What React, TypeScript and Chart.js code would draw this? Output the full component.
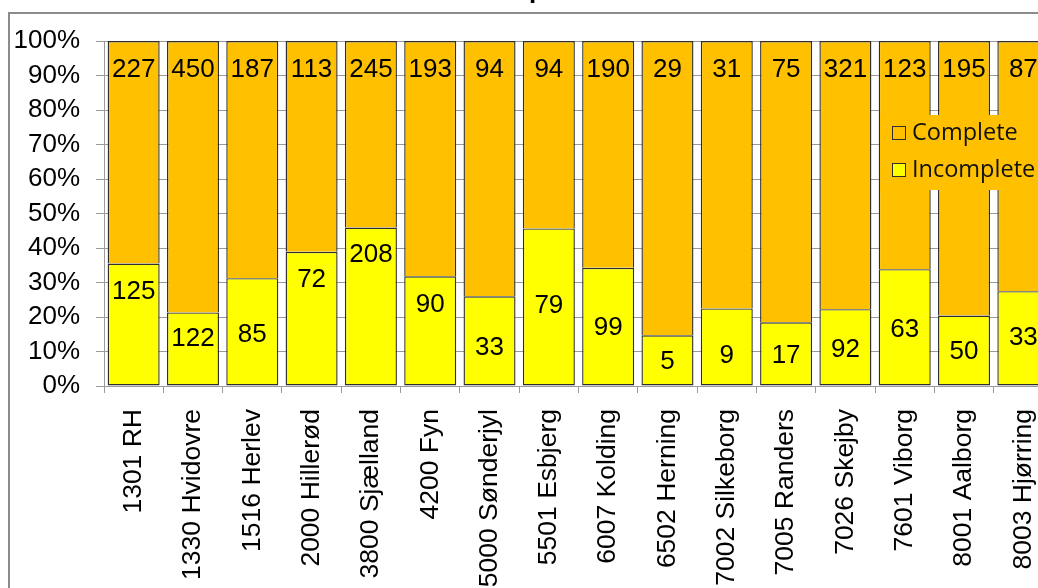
import React, { useEffect, useRef } from "react";
import { Chart, registerables } from "chart.js";

Chart.register(...registerables);

// Departments (x categories)
const departments = [
  "1301 RH",
  "1330 Hvidovre",
  "1516 Herlev",
  "2000 Hillerød",
  "3800 Sjælland",
  "4200 Fyn",
  "5000 Sønderjyl",
  "5501 Esbjerg",
  "6007 Kolding",
  "6502 Herning",
  "7002 Silkeborg",
  "7005 Randers",
  "7026 Skejby",
  "7601 Viborg",
  "8001 Aalborg",
  "8003 Hjørring",
];

// Record counts per department
const incompleteCounts = [125, 122, 85, 72, 208, 90, 33, 79, 99, 5, 9, 17, 92, 63, 50, 33];
const completeCounts = [227, 450, 187, 113, 245, 193, 94, 94, 190, 29, 31, 75, 321, 123, 195, 87];

// Y axis ticks (percent of department total)
const percentTicks = [0, 10, 20, 30, 40, 50, 60, 70, 80, 90, 100];

const chartTitle = "Completeness";

// Label placement: distance in px below each segment's top edge
const completeLabelDrop = 29;
const incompleteLabelDrop = [28, 26, 57, 28, 27, 29, 51, 77, 60, 27, 47, 34, 41, 61, 36, 47];

const COMPLETE_COLOR = "#FFC000";
const INCOMPLETE_COLOR = "#FFFF00";
const EDGE = "#2e2e2e";
const GRID = "#9a9a9a";
const FONT = "'Liberation Sans', Arial, sans-serif";

const CANVAS_W = 1100;
const CANVAS_H = 700;
const SHIFT_Y = 40; // canvas sits this far above the page top

const toPercent = (part: number[], other: number[]) =>
  part.map((v, i) => (100 * v) / (v + other[i]));

export default function App() {
  const ref = useRef<HTMLCanvasElement | null>(null);

  useEffect(() => {
    const canvas = ref.current;
    if (!canvas) return;

    const framePlugin = {
      id: "frameAndTitle",
      beforeDraw(chart: any) {
        const ctx = chart.ctx;
        ctx.save();
        ctx.fillStyle = "#ffffff";
        ctx.fillRect(0, 0, chart.width, chart.height);
        ctx.strokeStyle = "#8c8c8c";
        ctx.lineWidth = 2;
        ctx.strokeRect(9, 12 + SHIFT_Y + 1, chart.width + 20, chart.height + 20);
        ctx.fillStyle = "#000";
        ctx.font = `bold 26px ${FONT}`;
        ctx.textAlign = "center";
        ctx.textBaseline = "alphabetic";
        ctx.fillText(chartTitle, 560, SHIFT_Y - 2.5);
        ctx.restore();
      },
    };

    const labelPlugin = {
      id: "countLabels",
      afterDatasetsDraw(chart: any) {
        const ctx = chart.ctx;
        ctx.save();
        ctx.font = `26px ${FONT}`;
        ctx.fillStyle = "#000";
        ctx.textAlign = "center";
        ctx.textBaseline = "middle";
        chart.data.datasets.forEach((ds: any, di: number) => {
          const meta = chart.getDatasetMeta(di);
          meta.data.forEach((bar: any, i: number) => {
            const drop = ds.counts === completeCounts ? completeLabelDrop : incompleteLabelDrop[i];
            ctx.fillText(String(ds.counts[i]), bar.x, bar.y + drop);
          });
        });
        ctx.restore();
      },
    };

    const legendPlugin = {
      id: "insideLegend",
      afterDraw(chart: any) {
        const ctx = chart.ctx;
        const items = [...chart.data.datasets].reverse();
        ctx.save();
        ctx.fillStyle = COMPLETE_COLOR;
        ctx.fillRect(880, 115 + SHIFT_Y, chart.width, 75);
        ctx.font = `23.5px 'Open Sans', sans-serif`;
        ctx.textAlign = "left";
        ctx.textBaseline = "middle";
        items.forEach((ds: any, k: number) => {
          const cy = 133 + SHIFT_Y + k * 37;
          ctx.fillStyle = ds.backgroundColor;
          ctx.fillRect(892.5, cy - 6.5, 13, 13);
          ctx.strokeStyle = EDGE;
          ctx.lineWidth = 1;
          ctx.strokeRect(892.5, cy - 6.5, 13, 13);
          ctx.fillStyle = "#111";
          ctx.fillText(ds.label, 912, cy);
        });
        ctx.restore();
      },
    };

    const chart = new Chart(canvas, {
      type: "bar",
      data: {
        labels: departments,
        datasets: [
          {
            label: "Incomplete",
            data: toPercent(incompleteCounts, completeCounts),
            counts: incompleteCounts,
            backgroundColor: INCOMPLETE_COLOR,
            borderColor: EDGE,
            borderWidth: 1.4,
            borderSkipped: false,
            stack: "s",
          } as any,
          {
            label: "Complete",
            data: toPercent(completeCounts, incompleteCounts),
            counts: completeCounts,
            backgroundColor: COMPLETE_COLOR,
            borderColor: EDGE,
            borderWidth: { top: 1.4, left: 1.4, right: 1.4, bottom: 0 },
            borderSkipped: false,
            stack: "s",
          } as any,
        ],
      },
      options: {
        responsive: false,
        animation: false,
        devicePixelRatio: 1,
        layout: { padding: { top: 81, right: CANVAS_W - 1053, bottom: 0, left: 0 } },
        datasets: { bar: { categoryPercentage: 1, barPercentage: 0.877 } },
        plugins: {
          legend: { display: false },
          tooltip: { enabled: false },
          title: { display: false },
        },
        scales: {
          x: {
            stacked: true,
            afterFit(scale: any) {
              scale.height = CANVAS_H - 426;
            },
            grid: {
              display: true,
              drawOnChartArea: false,
              drawTicks: true,
              tickLength: 7,
              color: GRID,
            },
            border: { display: true, color: GRID },
            ticks: {
              autoSkip: false,
              minRotation: 90,
              maxRotation: 90,
              padding: 16,
              color: "#000",
              font: { family: FONT, size: 26.5 },
            },
          },
          y: {
            stacked: true,
            min: 0,
            max: 100,
            afterFit(scale: any) {
              scale.width = 104;
            },
            afterBuildTicks(scale: any) {
              scale.ticks = percentTicks.map((v) => ({ value: v }));
            },
            grid: {
              color: GRID,
              drawTicks: true,
              tickLength: 8,
            },
            border: { display: true, color: GRID },
            ticks: {
              padding: 16,
              color: "#000",
              font: { family: FONT, size: 26 },
              callback: (v: any) => `${v}%`,
            },
          },
        },
      } as any,
      plugins: [framePlugin, labelPlugin, legendPlugin],
    });

    return () => chart.destroy();
  }, []);

  return (
    <div
      style={{
        position: "fixed",
        left: 0,
        top: 0,
        width: "100vw",
        height: "100vh",
        overflow: "hidden",
        background: "#fff",
      }}
    >
      <canvas
        ref={ref}
        width={CANVAS_W}
        height={CANVAS_H}
        style={{ position: "absolute", left: 0, top: -SHIFT_Y, width: CANVAS_W, height: CANVAS_H }}
      />
    </div>
  );
}
